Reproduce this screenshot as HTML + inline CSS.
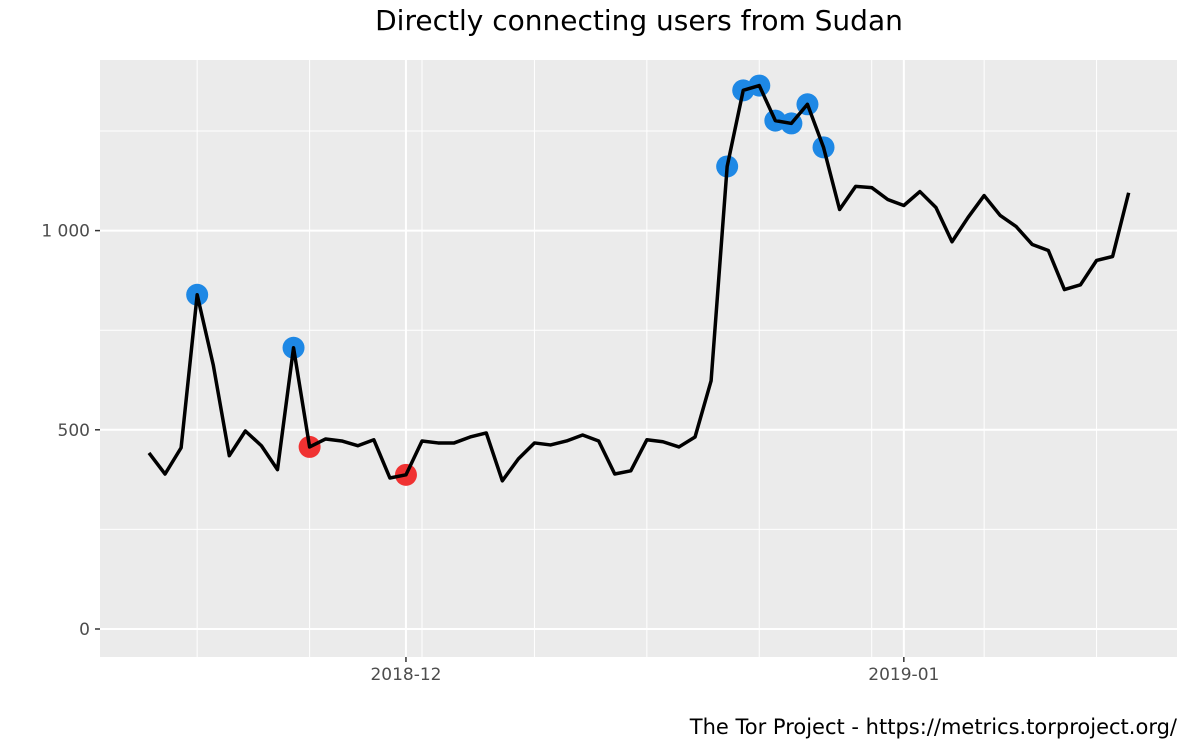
<!DOCTYPE html>
<html><head><meta charset="utf-8"><style>
body{margin:0;background:#fff;}
svg text{font-family:"DejaVu Sans","Liberation Sans",sans-serif;}
</style></head><body>
<svg id="chart" width="1200" height="750" xmlns="http://www.w3.org/2000/svg">
<rect width="1200" height="750" fill="#fff"/>
<text x="639" y="30" text-anchor="middle" font-size="28" fill="#000">Directly connecting users from Sudan</text>
<rect x="100" y="60" width="1077" height="597" fill="#ebebeb"/>
<g id="grid"></g>
<g id="series"></g>
<g id="axes"></g>
<text x="1177" y="734" text-anchor="end" font-size="21" fill="#000">The Tor Project - https://metrics.torproject.org/</text>
</svg>
<script>
const values=[442,389,455,839,663,435,497,460,400,706,457,477,472,460,475,379,387,472,467,467,482,492,372,427,467,462,472,487,472,389,397,475,470,457,482,623,1161,1352,1364,1276,1269,1317,1209,1053,1111,1108,1078,1063,1098,1058,972,1033,1088,1038,1010,965,950,852,864,925,935,1095];
const highIdx=[3,9,36,37,38,39,40,41,42];
const lowIdx=[10,16];
const yTicks=[0,500,1000];
const yMinor=[250,750,1250];
const xTickDays=[16,47];
const xTickLabels=["2018-12","2019-01"];
const xMinorDays=[3,10,17,24,31,38,45,52,59];
const NS="http://www.w3.org/2000/svg";
const X=d=>149+d*16.06;
const Y=v=>629-v*0.3984;
function el(p,t,a){const e=document.createElementNS(NS,t);for(const k in a)e.setAttribute(k,a[k]);p.appendChild(e);return e;}
const grid=document.getElementById('grid'),axes=document.getElementById('axes'),ser=document.getElementById('series');
yMinor.forEach(v=>{const l=el(grid,'line',{x1:100,x2:1177,y1:Y(v),y2:Y(v),stroke:'#fff','stroke-width':1});

});
xMinorDays.forEach(d=>{const l=el(grid,'line',{x1:X(d),x2:X(d),y1:60,y2:657,stroke:'#fff','stroke-width':1});

});
yTicks.forEach(v=>{const l=el(grid,'line',{x1:100,x2:1177,y1:Y(v),y2:Y(v),stroke:'#fff','stroke-width':2});


const t=el(axes,'line',{x1:95,x2:100,y1:Y(v),y2:Y(v),stroke:'#333','stroke-width':1.5});


const tx=el(axes,'text',{x:90,y:Y(v)+6,'text-anchor':'end','font-size':17,fill:'#4d4d4d'});
tx.textContent=v>=1000?String(Math.floor(v/1000))+' '+String(v%1000).padStart(3,'0'):String(v);

});
xTickDays.forEach((d,i)=>{const l=el(grid,'line',{x1:X(d),x2:X(d),y1:60,y2:657,stroke:'#fff','stroke-width':2});


const t=el(axes,'line',{x1:X(d),x2:X(d),y1:657,y2:662,stroke:'#333','stroke-width':1.5});


const tx=el(axes,'text',{x:X(d),y:680,'text-anchor':'middle','font-size':17,fill:'#4d4d4d'});
tx.textContent=xTickLabels[i];

});
const line=el(ser,'polyline',{points:values.map((v,i)=>X(i)+','+Y(v)).join(' '),fill:'none',stroke:'#000','stroke-width':3.5,'stroke-linejoin':'round'});


highIdx.forEach(i=>{const c=el(ser,'circle',{cx:X(i),cy:Y(values[i]),r:11,fill:'#1e88e5'});

});
lowIdx.forEach(i=>{const c=el(ser,'circle',{cx:X(i),cy:Y(values[i]),r:11,fill:'#f03232'});

});
ser.appendChild(line);
</script>
</body></html>
